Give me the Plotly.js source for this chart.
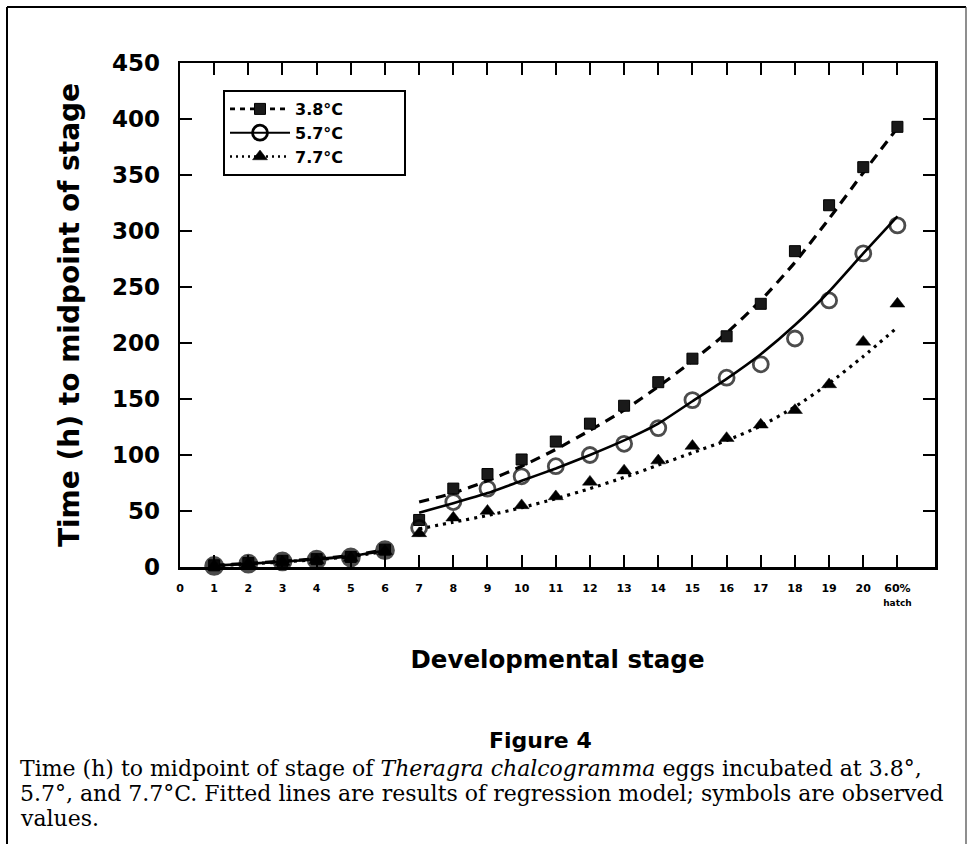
<!DOCTYPE html>
<html>
<head>
<meta charset="utf-8">
<script src="https://cdn.plot.ly/plotly-3.0.1.min.js"></script>
<style>
  html, body { margin: 0; padding: 0; background: #fff; }
  #chart { width: 970px; height: 844px; }
</style>
</head>
<body>
<div id="chart"></div>
<script>
// ---- data ----
const stages = [1,2,3,4,5,6,7,8,9,10,11,12,13,14,15,16,17,18,19,20,21];
const tickVals = [0,1,2,3,4,5,6,7,8,9,10,11,12,13,14,15,16,17,18,19,20,21];
const tickLabels = ['0','1','2','3','4','5','6','7','8','9','10','11','12','13','14','15','16','17','18','19','20','60%<br><span style="font-size:9px">hatch</span>'];
const seriesNames = ['3.8°C', '5.7°C', '7.7°C'];

// observed values (h)
const obs38 = [1.5,3.5,5.5,7,9,15.5, 42,70,83,96,112,128,144,165,186,206,235,282,323,357,393];
const obs57 = [1,3,5,6.5,8.5,15, 35,58,70,81,90,100,110,124,149,169,181,204,238,280,305];
const obs77 = [1,3,4.5,6,8,14, 30,44,50,55,63,76,86,95,108,115,127,140,163,201,235];

// fitted (regression) curves: early stages 1-6 and later stages 7-21
const fitEarlyStages = [1,2,3,4,5,6];
const fitLateStages = [7,8,9,10,11,12,13,14,15,16,17,18,19,20,21];
const fit38Early = [1.5,3.2,5.2,7.4,10.2,15.5];
const fit57Early = [1.2,2.9,4.8,7,9.7,14.8];
const fit77Early = [1,2.7,4.5,6.6,9.2,14.2];
const fit38Late = [58,66,77,90,105,122,140,161,184,209,238,272,311,352,392];
const fit57Late = [48.5,57,66,77,88,100,113,128,148,168,190,216,246,280,313];
const fit77Late = [34,40,46,53,61,70,80,91,102,113,126,143,164,188,214];

// ---- layout constants ----
const W = 970, H = 844;
const M = {l: 180, r: 35, t: 63, b: 277};
const PW = W - M.l - M.r, PH = H - M.t - M.b;
const px = v => (v - M.l) / PW;          // pixel -> paper x
const py = v => (H - M.b - v) / PH;      // pixel -> paper y

const FONT = 'DejaVu Sans';
const SERIF = 'DejaVu Serif';
const INK = '#000';
const PAD = '\u00a0'.repeat(10);

function joinSeg(xa, ya, xb, yb) {
  // join two curve pieces with a gap (null) between them
  return {x: xa.concat([null]).concat(xb), y: ya.concat([null]).concat(yb)};
}

const lineStyles = [
  {dash: '10px,7px', width: 3.2},
  {dash: 'solid', width: 2.6},
  {dash: '3px,5px', width: 3.2}
];
const markerStyles = [
  {symbol: 'square', size: 11, color: '#1a1a1a', line: {color: INK, width: 1}},
  {symbol: 'circle-open', size: 15, color: INK, line: {color: INK, width: 2.8}},
  {symbol: 'triangle-up', size: 13, color: INK, line: {color: INK, width: 0.5}}
];

const fits = [
  joinSeg(fitEarlyStages, fit38Early, fitLateStages, fit38Late),
  joinSeg(fitEarlyStages, fit57Early, fitLateStages, fit57Late),
  joinSeg(fitEarlyStages, fit77Early, fitLateStages, fit77Late)
];
const obs = [obs38, obs57, obs77];

const traces = [];
for (let i = 0; i < 3; i++) {
  traces.push({
    type: 'scatter', mode: 'lines', x: fits[i].x, y: fits[i].y,
    line: {color: INK, width: lineStyles[i].width, dash: lineStyles[i].dash, shape: 'spline', smoothing: 0.6},
    connectgaps: false, showlegend: false, hoverinfo: 'skip', cliponaxis: false
  });
}
for (let i = 0; i < 3; i++) {
  const m = Object.assign({}, markerStyles[i]);
  if (i === 1) {
    // overlapping symbols at the earliest stages merge into solid dots
    m.symbol = stages.map(s => s <= 6 ? 'circle' : 'circle-open');
    m.size = stages.map(s => s <= 6 ? 17 : 15);
  }
  traces.push({
    type: 'scatter', mode: 'markers', x: stages, y: obs[i],
    marker: m, showlegend: false, cliponaxis: false
  });
}
// legend entries (line + symbol)
for (let i = 0; i < 3; i++) {
  const m = Object.assign({}, markerStyles[i]);
  traces.push({
    type: 'scatter', mode: 'lines+markers', x: [null], y: [null], name: seriesNames[i] + PAD,
    legendgroup: 'g' + i,
    line: {color: INK, width: lineStyles[i].width - 0.5, dash: i === 0 ? '5px,5px' : (i === 2 ? '2px,4px' : 'solid')},
    marker: m, showlegend: true
  });
}

const shapes = [
  // outer figure frame
  {type: 'line', xref: 'paper', yref: 'paper', x0: px(7), x1: px(7), y0: py(7), y1: py(H + 5), line: {color: INK, width: 2}},
  {type: 'line', xref: 'paper', yref: 'paper', x0: px(7), x1: px(966), y0: py(7), y1: py(7), line: {color: INK, width: 2}},
  {type: 'line', xref: 'paper', yref: 'paper', x0: px(966), x1: px(966), y0: py(7), y1: py(H + 5), line: {color: '#444', width: 1.2}}
];

const capFont = {family: SERIF, size: 22, color: INK};
const annotations = [
  {text: '<b>Figure 4</b>', xref: 'paper', yref: 'paper', x: px(540), y: py(740), xanchor: 'center', yanchor: 'middle',
   showarrow: false, font: {family: FONT, size: 22, color: INK}},
  {text: 'Time (h) to midpoint of stage of <i>Theragra chalcogramma</i> eggs incubated at 3.8°,', xref: 'paper', yref: 'paper',
   x: px(18), y: py(768), xanchor: 'left', yanchor: 'middle', showarrow: false, font: capFont},
  {text: '5.7°, and 7.7°C. Fitted lines are results of regression model; symbols are observed', xref: 'paper', yref: 'paper',
   x: px(18), y: py(793), xanchor: 'left', yanchor: 'middle', showarrow: false, font: capFont},
  {text: 'values.', xref: 'paper', yref: 'paper',
   x: px(18), y: py(818), xanchor: 'left', yanchor: 'middle', showarrow: false, font: capFont}
];

const layout = {
  width: W, height: H,
  margin: M,
  paper_bgcolor: '#fff', plot_bgcolor: '#fff',
  font: {family: FONT, color: INK},
  showlegend: true,
  legend: {
    x: px(223), y: py(90), xanchor: 'left', yanchor: 'top',
    bgcolor: '#fff', bordercolor: INK, borderwidth: 2,
    font: {family: FONT, size: 16, color: INK, weight: 'bold'},
    tracegroupgap: 0, itemwidth: 60
  },
  xaxis: {
    range: [0, 22.1], tickvals: tickVals, ticktext: tickLabels,
    ticks: 'inside', ticklen: 12, tickwidth: 2, tickcolor: INK,
    showline: true, linecolor: INK, linewidth: 2.5, mirror: 'ticks',
    showgrid: false, zeroline: false, ticklabelstandoff: 9,
    tickfont: {family: FONT, size: 11, color: INK, weight: 'bold'},
    title: {text: '<b>Developmental stage</b>', font: {family: FONT, size: 24.5, color: INK}, standoff: 44}
  },
  yaxis: {
    range: [0, 450], tickvals: [0,50,100,150,200,250,300,350,400,450],
    ticks: 'inside', ticklen: 12, tickwidth: 2, tickcolor: INK,
    showline: true, linecolor: INK, linewidth: 2.5, mirror: 'ticks',
    showgrid: false, zeroline: false, ticklabelstandoff: 13,
    tickfont: {family: FONT, size: 23, color: INK, weight: 'bold'},
    title: {text: '<b>Time (h) to midpoint of stage</b>', font: {family: FONT, size: 28, color: INK}, standoff: 24}
  },
  shapes: shapes,
  annotations: annotations
};

Plotly.newPlot('chart', traces, layout, {displayModeBar: false, staticPlot: true});
</script>
</body>
</html>
